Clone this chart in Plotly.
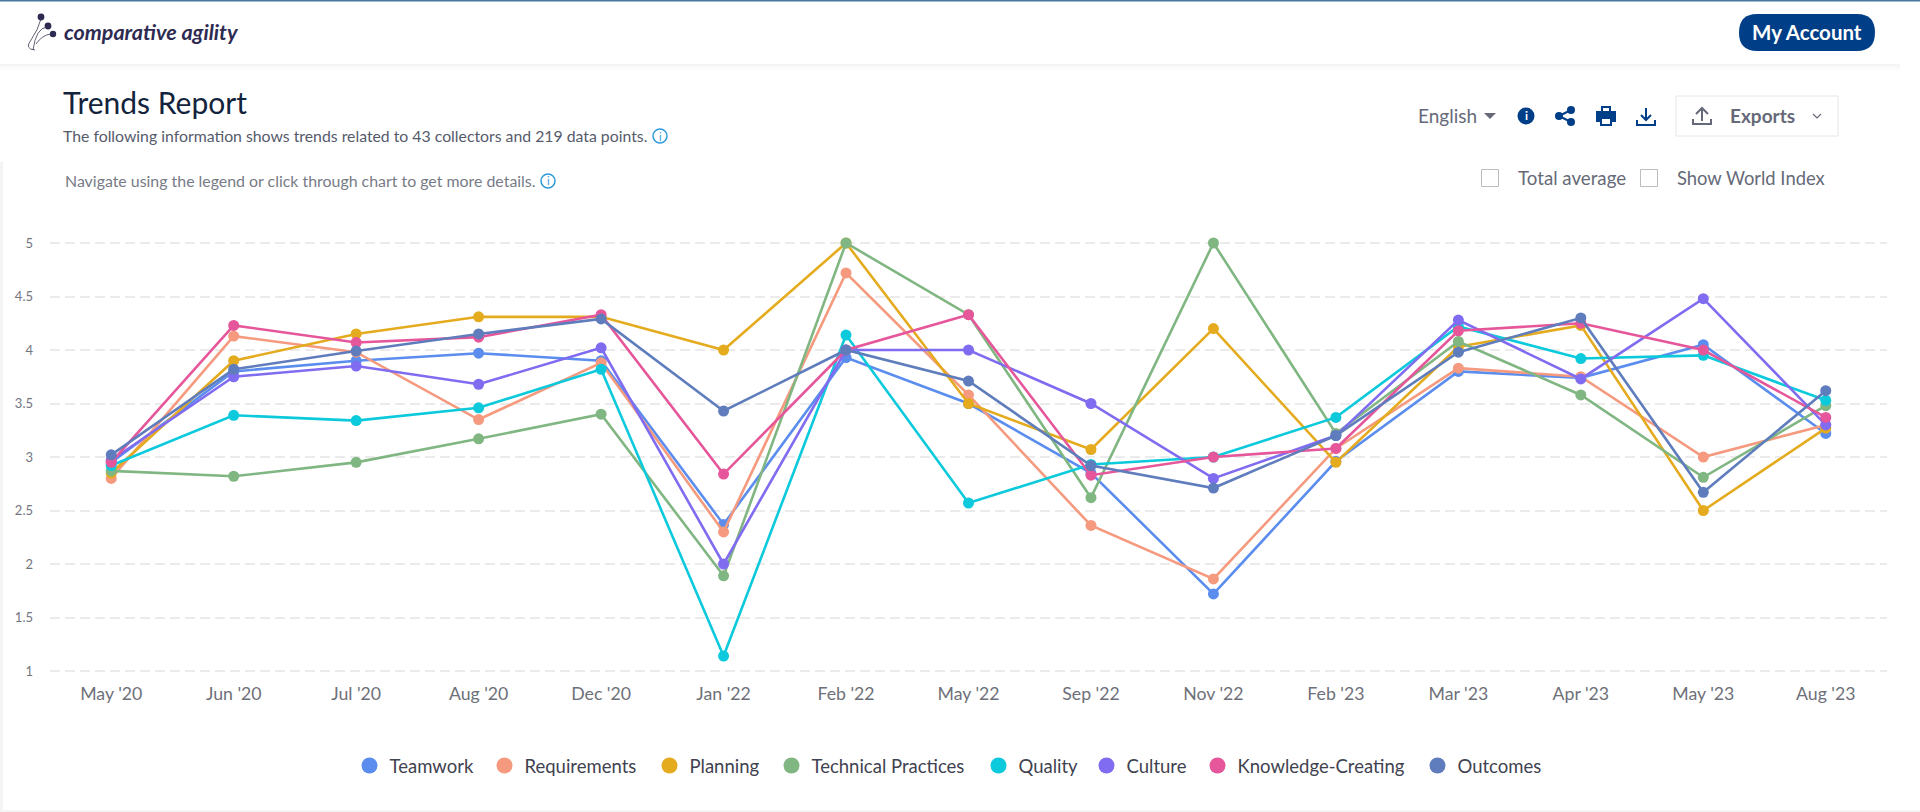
import plotly.graph_objects as go

# Survey rounds and the average score of each dimension per round
periods = ["May '20", "Jun '20", "Jul '20", "Aug '20", "Dec '20", "Jan '22", "Feb '22", "May '22",
           "Sep '22", "Nov '22", "Feb '23", "Mar '23", "Apr '23", "May '23", "Aug '23"]
teamwork = [2.95, 3.80, 3.90, 3.97, 3.90, 2.37, 3.93, 3.50, 2.85, 1.72, 2.96, 3.80, 3.74, 4.05, 3.22]
requirements = [2.80, 4.13, 3.98, 3.35, 3.88, 2.30, 4.72, 3.58, 2.36, 1.86, 3.08, 3.83, 3.75, 3.00, 3.30]
planning = [2.85, 3.90, 4.15, 4.31, 4.31, 4.00, 5.00, 3.50, 3.07, 4.20, 2.95, 4.03, 4.23, 2.50, 3.27]
technical = [2.87, 2.82, 2.95, 3.17, 3.40, 1.89, 5.00, 4.33, 2.62, 5.00, 3.22, 4.08, 3.58, 2.81, 3.48]
quality = [2.92, 3.39, 3.34, 3.46, 3.82, 1.14, 4.14, 2.57, 2.93, 3.00, 3.37, 4.22, 3.92, 3.95, 3.53]
culture = [2.97, 3.75, 3.85, 3.68, 4.02, 2.00, 4.00, 4.00, 3.50, 2.80, 3.20, 4.28, 3.73, 4.48, 3.30]
knowledge = [2.95, 4.23, 4.07, 4.12, 4.33, 2.84, 4.00, 4.33, 2.83, 3.00, 3.08, 4.18, 4.25, 4.00, 3.37]
outcomes = [3.02, 3.82, 3.99, 4.15, 4.29, 3.43, 4.00, 3.71, 2.92, 2.71, 3.20, 3.98, 4.30, 2.67, 3.62]

series_names = ["Teamwork", "Requirements", "Planning", "Technical Practices", "Quality", "Culture",
                "Knowledge-Creating", "Outcomes"]
series_values = [teamwork, requirements, planning, technical, quality, culture, knowledge, outcomes]
series_colors = ["#5b8def", "#f59a7e", "#e5ab1f", "#80b682", "#0cc9dc", "#7f6cf0", "#e6569a", "#5f7dbd"]
y_ticks = [1, 1.5, 2, 2.5, 3, 3.5, 4, 4.5, 5]

W, H = 1920, 812
FONT = "Lato"
NAVY = "#003f87"
GREY = "#666a78"
BLUE_I = "#2d9bdc"

# Left edge of each legend entry along the footer row, in page pixels
legend_left = [349.5, 484.5, 649.5, 771.5, 978.5, 1086.5, 1197.5, 1417.5]


def px(x):
    return x / W


def py(y):
    return 1 - y / H


def rect(x0, y0, x1, y1, fill="rgba(0,0,0,0)", line=None, width=1):
    return dict(type="rect", xref="paper", yref="paper", x0=px(x0), x1=px(x1), y0=py(y0), y1=py(y1),
                fillcolor=fill, line=dict(color=line or "rgba(0,0,0,0)", width=width if line else 0),
                layer="below")


def circle(cx, cy, r, fill="rgba(0,0,0,0)", line=None, width=1):
    s = rect(cx - r, cy - r, cx + r, cy + r, fill, line, width)
    s["type"] = "circle"
    return s


def path(d, fill="rgba(0,0,0,0)", line=None, width=1.5):
    # d holds (command, x, y, ...) tuples in page pixels
    out = []
    for part in d:
        out.append(part[0])
        nums = part[1:]
        out.append(" ".join(f"{px(v) if i % 2 == 0 else py(v):.5f}" for i, v in enumerate(nums)))
    return dict(type="path", xref="paper", yref="paper", path=" ".join(out), fillcolor=fill,
                line=dict(color=line or "rgba(0,0,0,0)", width=width if line else 0), layer="above")


def text(x, y, s, size, color=GREY, anchor="left", family=FONT):
    return dict(text=s, xref="paper", yref="paper", x=px(x), y=py(y), xanchor=anchor, yanchor="middle",
                showarrow=False, font=dict(family=family, size=size, color=color))


def info_ring(cx, cy):
    return [circle(cx, cy, 7, line=BLUE_I, width=1.5)]


shapes = [
    # Page header, its drop shadow and the thin page edges
    rect(0, 0, W, 1.6, "#4a76a0"),
    rect(0, 64, 1900, 66, "rgba(0,0,0,0.045)"),
    rect(0, 66, 1900, 68, "rgba(0,0,0,0.025)"),
    rect(0, 68, 1900, 71, "rgba(0,0,0,0.012)"),
    rect(0, 162, 3, 812, "#f4f4f4"),
    rect(0, 810, W, 812, "#f4f4f4"),
    # Account button
    dict(type="path", xref="paper", yref="paper", layer="above",
         path=f"M {px(1757):.5f} {py(14):.5f} L {px(1857):.5f} {py(14):.5f} "
              f"Q {px(1875):.5f} {py(14):.5f} {px(1875):.5f} {py(32.5):.5f} "
              f"Q {px(1875):.5f} {py(51):.5f} {px(1857):.5f} {py(51):.5f} L {px(1757):.5f} {py(51):.5f} "
              f"Q {px(1739):.5f} {py(51):.5f} {px(1739):.5f} {py(32.5):.5f} "
              f"Q {px(1739):.5f} {py(14):.5f} {px(1757):.5f} {py(14):.5f} Z",
         fillcolor=NAVY, line=dict(width=0)),
    # Logo dots and strokes
    circle(41, 17, 3.4, "#2e2b52"), circle(48, 26, 3.4, "#2e2b52"), circle(53, 34, 3.2, "#2e2b52"),
    path([("M", 41, 19), ("Q", 38, 30, 31, 40), ("Q", 24, 49, 35, 50)], line="#3a3a55", width=0.8),
    path([("M", 47, 27), ("Q", 36, 28, 33, 50)], line="#3a3a55", width=0.8),
    path([("M", 51, 34), ("Q", 42, 35, 36, 44)], line="#3a3a55", width=0.8),
    # Exports box and option checkboxes
    rect(1676, 96, 1838, 136, "#ffffff", "#e6e6e6"),
    rect(1481.5, 169.5, 1498.5, 186.5, "#ffffff", "#bdbdbd"),
    rect(1640.5, 169.5, 1657.5, 186.5, "#ffffff", "#bdbdbd"),
    # Language caret
    path([("M", 1484, 113), ("L", 1496, 113), ("L", 1490, 119), ("Z",)], fill=GREY),
    # Information icon
    circle(1526, 116, 8.5, NAVY),
    # Share icon
    circle(1559, 116, 4, NAVY), circle(1571, 110, 4, NAVY), circle(1571, 122, 4, NAVY),
    path([("M", 1559, 116), ("L", 1571, 110)], line=NAVY, width=2),
    path([("M", 1559, 116), ("L", 1571, 122)], line=NAVY, width=2),
    # Print icon
    path([("M", 1601, 106), ("L", 1611, 106), ("L", 1611, 111), ("L", 1616, 111), ("L", 1616, 122),
          ("L", 1612, 122), ("L", 1612, 126), ("L", 1600, 126), ("L", 1600, 122), ("L", 1596, 122),
          ("L", 1596, 111), ("L", 1601, 111), ("Z",)], fill=NAVY),
    path([("M", 1602, 119), ("L", 1610, 119), ("L", 1610, 124), ("L", 1602, 124), ("Z",)], fill="#ffffff"),
    path([("M", 1603, 108), ("L", 1609, 108), ("L", 1609, 111), ("L", 1603, 111), ("Z",)], fill="#ffffff"),
    # Download icon
    path([("M", 1646, 108), ("L", 1646, 120)], line=NAVY, width=2),
    path([("M", 1641, 115), ("L", 1646, 120), ("L", 1651, 115)], line=NAVY, width=2),
    path([("M", 1637, 120), ("L", 1637, 125), ("L", 1655, 125), ("L", 1655, 120)], line=NAVY, width=2),
    # Upload icon
    path([("M", 1702, 109), ("L", 1702, 121)], line=GREY, width=2),
    path([("M", 1696, 114), ("L", 1702, 108), ("L", 1708, 114)], line=GREY, width=2),
    path([("M", 1693, 119), ("L", 1693, 124), ("L", 1711, 124), ("L", 1711, 119)], line=GREY, width=2),
    # Exports chevron
    path([("M", 1813, 114), ("L", 1817, 118), ("L", 1821, 114)], line=GREY, width=1.2),
] + info_ring(660, 136) + info_ring(548, 181)

annotations = [
    text(62, 32, "<b><i>comparative agility</i></b>", 21.5, "#2e2b52"),
    text(1807, 32.5, "<b>My Account</b>", 20.5, "#ffffff", "center"),
    text(60.5, 102, "Trends Report", 30, "#14233c"),
    text(60.5, 135, "The following information shows trends related to 43 collectors and 219 data points.", 15.8, "#565b6b"),
    text(660, 136, "i", 11, BLUE_I, "center"),
    text(62.5, 181, "Navigate using the legend or click through chart to get more details.", 15.9, "#777b86"),
    text(548, 181, "i", 11, BLUE_I, "center"),
    text(1415.5, 115, "English", 19, GREY),
    text(1526, 116, "<b>i</b>", 12, "#ffffff", "center"),
    text(1727.5, 116, "<b>Exports</b>", 19, GREY),
    text(1515.5, 178, "Total average", 18.7, GREY),
    text(1674.5, 178, "Show World Index", 18.4, GREY),
]

fig = go.Figure()
for name, values, color in zip(series_names, series_values, series_colors):
    fig.add_trace(go.Scatter(x=periods, y=values, name=name, mode="lines+markers", showlegend=False,
                             line=dict(color=color, width=2.6), marker=dict(color=color, size=11),
                             cliponaxis=False))

# One dot-only legend per series so that each entry keeps its own place on the row
legend_layouts = {}
for i, (name, color, left) in enumerate(zip(series_names, series_colors, legend_left)):
    key = "legend" if i == 0 else f"legend{i + 1}"
    fig.add_trace(go.Scatter(x=[None], y=[None], name=name, mode="markers", legend=key,
                             marker=dict(color=color, size=16)))
    legend_layouts[key] = dict(orientation="h", x=px(left), xanchor="left", y=py(766), yanchor="middle",
                               font=dict(family=FONT, size=18.5, color="#3f4250"),
                               bgcolor="rgba(0,0,0,0)")

# The y range reaches just past 1 and 5 so the outermost gridlines stay drawn
fig.update_layout(
    width=W, height=H, autosize=False, margin=dict(l=0, r=0, t=0, b=0, autoexpand=False),
    paper_bgcolor="#ffffff", plot_bgcolor="rgba(0,0,0,0)",
    font=dict(family=FONT, color=GREY),
    shapes=shapes, annotations=annotations,
    hovermode="closest",
    xaxis=dict(domain=[px(50), px(1887)], type="category", categoryorder="array", categoryarray=periods,
               range=[-0.5, 14.5], showgrid=False, zeroline=False, showline=False, ticks="",
               ticklabelstandoff=8, tickfont=dict(family=FONT, size=17.7, color="#6e7079"), anchor="y"),
    yaxis=dict(domain=[py(673.14), py(240.86)], range=[0.98, 5.02], tickvals=y_ticks,
               ticktext=[str(t) for t in y_ticks],
               showgrid=True, gridcolor="#ebebeb", gridwidth=1.6, griddash="10px,5px", zeroline=False,
               showline=False, ticks="", ticklabelstandoff=16,
               tickfont=dict(family=FONT, size=13, color="#74767f"), anchor="x"),
    **legend_layouts,
)

fig.write_html("out.html", config=dict(displayModeBar=False))
